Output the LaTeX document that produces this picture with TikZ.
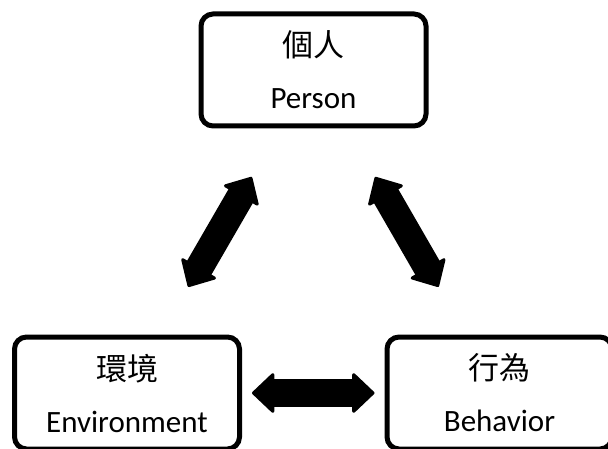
\documentclass[tikz,border=0pt]{standalone}
\usepackage{fontspec}
\setmainfont{Carlito}
\newfontfamily\cjk{Noto Sans CJK TC}
\usetikzlibrary{arrows.meta}

\begin{document}
\begin{tikzpicture}[
    x=1pt, y=-1pt,
    font=\fontsize{31}{52}\selectfont,
    box/.style={draw=black, line width=5pt, rectangle, rounded corners=12pt, minimum width=225pt, minimum height=112pt, align=center},
    fat/.tip={Triangle[width=43pt, length=23pt, line width=3pt 0, round]},
    arrow/.style={fat-fat, line width=28pt, black}
]
\useasboundingbox (0,0) rectangle (608,449);
\clip (0,0) rectangle (608,449);

% Boxes
\node[box] (person) at (313.5,70)  {{\cjk 個人}\\Person};
\node[box] (envir)  at (127,393)   {{\cjk 環境}\\Environment};
\node[box] (behav)  at (499.5,393) {{\cjk 行為}\\Behavior};

% Arrows
\draw[arrow, shorten <=56pt, shorten >=55pt] (person) -- (envir);
\draw[arrow, shorten <=56pt, shorten >=55pt] (person) -- (behav);
\draw[arrow, shorten <=10pt, shorten >=10pt] (envir) -- (behav);

\end{tikzpicture}
\end{document}
